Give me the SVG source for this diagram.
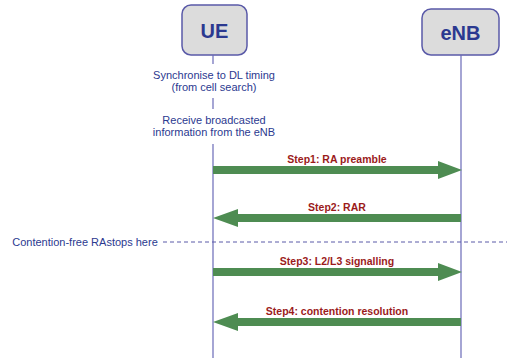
<svg xmlns="http://www.w3.org/2000/svg" width="507" height="361" viewBox="0 0 507 361">
<style>
.box{fill:#dcdcdc;stroke:#5a5aa8;stroke-width:1.5}
.title{font-family:"Liberation Sans",Arial,sans-serif;font-weight:bold;font-size:20px;fill:#2b3990;text-anchor:middle}
.life{stroke:#6a6ab8;stroke-width:1.2;fill:none}
.note{font-family:"Liberation Sans",Arial,sans-serif;font-size:11px;fill:#2b3990;text-anchor:middle}
.step{font-family:"Liberation Sans",Arial,sans-serif;font-weight:bold;font-size:10.5px;fill:#9b1b1b;text-anchor:middle}
.arrow{fill:#4e8c52}
.dash{stroke:#5a5aa8;stroke-width:1;stroke-dasharray:4,3}
</style>
<rect width="507" height="361" fill="#ffffff"/>
<g id="UE">
<rect class="box" x="182" y="5" width="65" height="50" rx="9"/>
<text class="title" x="214.5" y="38">UE</text>
</g>
<g id="eNB">
<rect class="box" x="422" y="9" width="77" height="46" rx="9"/>
<text class="title" x="460.5" y="40">eNB</text>
</g>
<g id="lifelines">
<line class="life" x1="213" y1="55" x2="213" y2="64"/>
<line class="life" x1="213" y1="98" x2="213" y2="109"/>
<line class="life" x1="213" y1="144" x2="213" y2="358"/>
<line class="life" x1="461" y1="55" x2="461" y2="358"/>
</g>
<g id="notes">
<text class="note" x="214" y="79">Synchronise to DL timing</text>
<text class="note" x="214" y="91">(from cell search)</text>
<text class="note" x="214" y="124">Receive broadcasted</text>
<text class="note" x="214" y="136">information from the eNB</text>
</g>
<g id="contention">
<line class="dash" x1="163" y1="242" x2="507" y2="242"/>
<text class="note" x="85" y="246">Contention-free RAstops here</text>
</g>
<g id="connectors">
<polygon class="arrow" points="213,166 438,166 438,161 462,170 438,179 438,174 213,174"/>
<polygon class="arrow" points="461,214 238,214 238,209 213,218 238,227 238,222 461,222"/>
<polygon class="arrow" points="213,268 438,268 438,263 462,272 438,281 438,276 213,276"/>
<polygon class="arrow" points="461,318 238,318 238,313 213,322 238,331 238,326 461,326"/>
<text class="step" x="337" y="163">Step1: RA preamble</text>
<text class="step" x="337" y="211">Step2: RAR</text>
<text class="step" x="337" y="265">Step3: L2/L3 signalling</text>
<text class="step" x="337" y="315">Step4: contention resolution</text>
</g>
</svg>
